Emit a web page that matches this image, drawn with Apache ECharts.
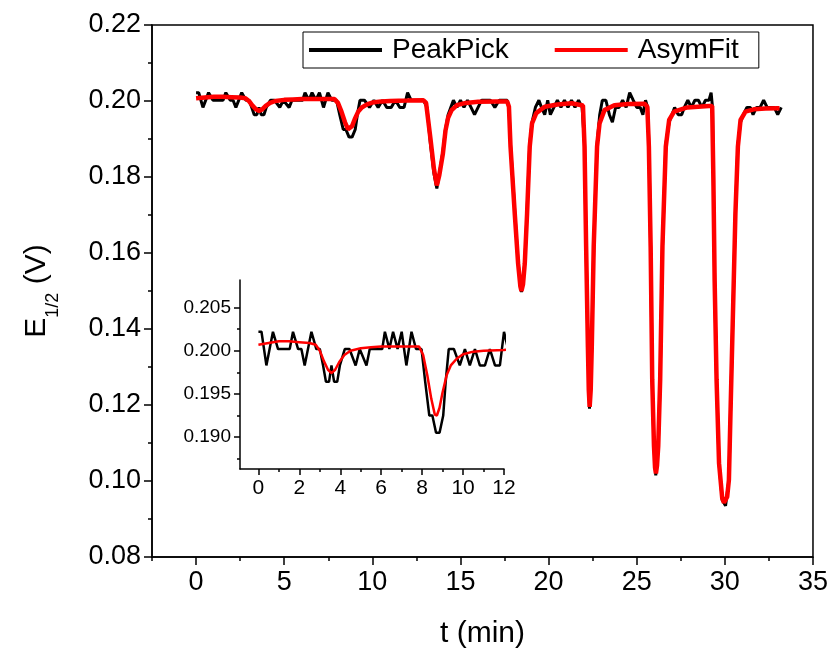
<!DOCTYPE html>
<html>
<head>
<meta charset="utf-8">
<script src="https://cdn.jsdelivr.net/npm/echarts@6/dist/echarts.min.js"></script>
<style>html,body{margin:0;padding:0;background:#fff}#c{width:831px;height:655px}</style>
</head>
<body>
<div id="c"></div>
<script>
// ---- data ----
var seriesNames = ['PeakPick', 'AsymFit'];

var pkT = [0.00,0.15,0.39,0.71,0.96,1.25,1.53,1.69,1.94,2.10,2.26,2.59,2.83,3.00,3.16,3.30,3.45,3.57,3.70,3.85,3.98,4.22,4.45,4.75,4.95,5.28,5.44,5.80,6.05,6.18,6.40,6.58,6.80,7.00,7.23,7.48,7.70,7.97,8.15,8.35,8.50,8.68,8.85,9.03,9.15,9.30,9.55,9.84,10.09,10.33,10.58,10.82,11.07,11.31,11.56,11.80,12.00,
12.20,12.45,12.70,12.90,13.10,13.30,13.50,13.66,13.80,14.00,14.15,14.30,14.45,14.60,14.80,15.00,15.20,15.40,15.60,15.80,16.00,16.20,16.45,16.70,16.95,17.20,17.45,17.65,17.75,17.84,18.08,18.27,18.46,18.65,18.78,18.93,19.06,19.25,19.45,19.60,19.78,19.95,20.10,20.30,20.50,20.70,20.90,21.10,21.30,21.50,21.70,21.90,
22.04,22.13,22.23,22.32,22.45,22.56,22.75,22.90,23.05,23.25,23.45,23.62,23.80,24.00,24.20,24.40,24.60,24.80,25.00,25.20,25.35,25.50,25.62,25.69,25.79,25.88,25.98,26.08,26.22,26.33,26.46,26.65,26.84,27.00,27.15,27.35,27.55,27.70,27.90,28.10,28.30,28.50,28.70,28.90,29.10,29.22,29.30,29.35,29.42,29.53,29.67,29.85,30.04,30.23,30.32,30.46,30.60,30.74,30.89,31.05,31.25,31.45,31.60,31.80,32.00,32.20,32.40,32.60,32.80,33.00,33.20];
var pkV = [0.2022,0.2022,0.1983,0.2022,0.2002,0.2002,0.2002,0.2022,0.2002,0.2002,0.1983,0.2022,0.2002,0.2002,0.1983,0.1964,0.1964,0.1983,0.1964,0.1964,0.1983,0.2002,0.2002,0.1983,0.2002,0.1983,0.2002,0.2002,0.2002,0.2022,0.2002,0.2022,0.2002,0.2022,0.1983,0.2022,0.2002,0.2002,0.1964,0.1925,0.1925,0.1905,0.1905,0.1925,0.1964,0.2002,0.2002,0.1983,0.2002,0.1983,0.2002,0.1983,0.1983,0.2002,0.1983,0.1983,0.2022,
0.2002,0.2002,0.2002,0.2002,0.1983,0.1886,0.1808,0.1770,0.1808,0.1866,0.1925,0.1964,0.1983,0.2002,0.1983,0.2002,0.1983,0.2002,0.1983,0.1964,0.1983,0.2002,0.2002,0.2002,0.1983,0.2002,0.2002,0.2002,0.1983,0.1886,0.1710,0.1574,0.1497,0.1574,0.1710,0.1886,0.1944,0.1983,0.2002,0.1983,0.1964,0.2002,0.1964,0.1983,0.2002,0.1983,0.2002,0.1983,0.2002,0.1983,0.2002,0.1983,
0.1886,0.1613,0.1354,0.1190,0.1354,0.1613,0.1886,0.1964,0.2002,0.2002,0.1964,0.1944,0.1983,0.1983,0.2002,0.1983,0.2022,0.2002,0.1983,0.1983,0.1964,0.2002,0.1983,0.1886,0.1613,0.1266,0.1090,0.1015,0.1090,0.1266,0.1613,0.1886,0.1944,0.1964,0.1983,0.1964,0.1964,0.1983,0.2002,0.1983,0.2002,0.2002,0.1983,0.2002,0.2002,0.2022,0.1983,0.1790,0.1528,0.1266,0.1047,0.0950,0.0935,0.1003,0.1179,0.1442,0.1705,0.1886,0.1944,0.1964,0.1983,0.1983,0.1964,0.1983,0.1983,0.2002,0.1983,0.1983,0.1983,0.1964,0.1983];

var fitT = [0.00,0.50,1.00,1.50,2.00,2.50,2.80,3.00,3.20,3.40,3.57,3.75,3.95,4.20,4.50,5.00,5.50,6.00,7.00,7.85,8.05,8.25,8.45,8.62,8.72,8.85,9.00,9.20,9.40,9.70,10.00,10.50,11.00,12.00,12.90,13.05,13.30,13.50,13.66,13.80,14.00,14.15,14.30,14.50,14.80,15.30,16.00,17.00,17.65,17.75,17.84,18.08,18.27,18.40,18.46,18.55,18.65,18.78,18.93,19.06,19.30,19.78,20.50,21.30,21.95,22.04,22.13,22.23,22.28,22.33,22.39,22.45,22.56,22.75,22.89,23.17,23.73,24.50,25.45,25.60,25.69,25.79,25.88,25.98,26.04,26.09,26.15,26.22,26.33,26.46,26.65,26.84,27.12,27.87,29.10,29.28,29.35,29.42,29.53,29.67,29.85,29.95,30.04,30.13,30.23,30.32,30.46,30.60,30.74,30.89,31.17,31.64,32.30,33.00,33.10];
var fitV = [0.2007,0.2009,0.2011,0.2011,0.2010,0.2009,0.2007,0.2000,0.1988,0.1978,0.1974,0.1978,0.1987,0.1995,0.2000,0.2003,0.2004,0.2005,0.2005,0.2005,0.1995,0.1972,0.1944,0.1926,0.1925,0.1934,0.1952,0.1972,0.1983,0.1991,0.1996,0.1999,0.2000,0.2001,0.2002,0.1995,0.1900,0.1820,0.1778,0.1805,0.1860,0.1922,0.1956,0.1976,0.1989,0.1995,0.1998,0.1999,0.1999,0.1985,0.1880,0.1704,0.1573,0.1512,0.1500,0.1518,0.1573,0.1704,0.1880,0.1941,0.1968,0.1985,0.1991,0.1994,0.1988,0.1880,0.1617,0.1353,0.1240,0.1195,0.1240,0.1353,0.1617,0.1880,0.1941,0.1976,0.1989,0.1992,0.1993,0.1985,0.1880,0.1617,0.1266,0.1091,0.1035,0.1020,0.1040,0.1091,0.1266,0.1617,0.1880,0.1950,0.1972,0.1983,0.1987,0.1987,0.1792,0.1529,0.1266,0.1047,0.0955,0.0943,0.0940,0.0958,0.1003,0.1179,0.1442,0.1705,0.1880,0.1950,0.1972,0.1978,0.1980,0.1981,0.1981];

var xMajor = [0, 5, 10, 15, 20, 25, 30, 35];
var xMinor = [-2.5, 2.5, 7.5, 12.5, 17.5, 22.5, 27.5, 32.5];
var insetXMajor = [0, 2, 4, 6, 8, 10, 12];
var insetXMinor = [1, 3, 5, 7, 9, 11];
var insetYMajor = [0.190, 0.195, 0.200, 0.205];
var insetYMinor = [0.1875, 0.1925, 0.1975, 0.2025];

// ---- build ----
function pairs(t, v) { return t.map(function (x, i) { return [x, v[i]]; }); }
var pk = pairs(pkT, pkV), fit = pairs(fitT, fitV);
var FONT = '"Liberation Sans", Arial, sans-serif';
var AX = { color: '#000', width: 1.5 };
var LINE = { onZero: false, lineStyle: AX };

var chart = echarts.init(document.getElementById('c'));
chart.setOption({
  animation: false,
  backgroundColor: '#fff',
  textStyle: { fontFamily: FONT, color: '#000' },
  legend: {
    data: [{ name: seriesNames[0], icon: 'rect' }, { name: seriesNames[1], icon: 'rect' }],
    left: 303, top: 32,
    padding: [4, 20, 4, 6],
    borderColor: '#000', borderWidth: 1,
    itemWidth: 73, itemHeight: 4, itemGap: 46,
    textStyle: { fontSize: 28, lineHeight: 28, color: '#000', fontFamily: FONT, padding: [0, 0, 0, 5] }
  },
  grid: [
    { left: 152, top: 25, right: 14, bottom: 98, show: true, borderColor: '#000', borderWidth: 1.5, backgroundColor: 'transparent' },
    { left: 240, top: 280, width: 264, height: 189 }
  ],
  xAxis: [
    { gridIndex: 0, type: 'value', min: -2.5, max: 35, position: 'bottom',
      axisLine: LINE, splitLine: { show: false },
      axisTick: { customValues: xMajor, length: 8, lineStyle: AX },
      axisLabel: { customValues: xMajor, fontSize: 27, color: '#000', margin: 12, fontFamily: FONT },
      name: 't (min)', nameLocation: 'middle', nameGap: 62,
      nameTextStyle: { fontSize: 30, color: '#000', fontFamily: FONT } },
    { gridIndex: 0, type: 'value', min: -2.5, max: 35, position: 'bottom',
      axisLine: { show: false, onZero: false }, splitLine: { show: false },
      axisTick: { customValues: xMinor, length: 4, lineStyle: AX },
      axisLabel: { show: false } },
    { gridIndex: 1, type: 'value', min: -0.9, max: 12, position: 'bottom',
      axisLine: LINE, splitLine: { show: false },
      axisTick: { customValues: insetXMajor, length: 6, lineStyle: AX },
      axisLabel: { customValues: insetXMajor, fontSize: 21, color: '#000', margin: 9, fontFamily: FONT } },
    { gridIndex: 1, type: 'value', min: -0.9, max: 12, position: 'bottom',
      axisLine: { show: false, onZero: false }, splitLine: { show: false },
      axisTick: { customValues: insetXMinor, length: 3, lineStyle: AX },
      axisLabel: { show: false } }
  ],
  yAxis: [
    { gridIndex: 0, type: 'value', min: 0.08, max: 0.22, interval: 0.02, position: 'left',
      axisLine: { show: true, onZero: false, lineStyle: AX }, splitLine: { show: false },
      axisTick: { show: true, length: 8, lineStyle: AX },
      minorTick: { show: true, splitNumber: 2, length: 4, lineStyle: AX },
      axisLabel: { fontSize: 27, color: '#000', margin: 11, fontFamily: FONT,
        formatter: function (v) { return v.toFixed(2); } },
      name: '{a|E}{b|1/2}{a| (V)}', nameLocation: 'middle', nameGap: 100, nameRotate: 90,
      nameTextStyle: { fontFamily: FONT, color: '#000',
        rich: { a: { fontSize: 30, fontFamily: FONT, color: '#000', lineHeight: 34, verticalAlign: 'bottom' },
                b: { fontSize: 18, fontFamily: FONT, color: '#000', lineHeight: 34, verticalAlign: 'bottom', padding: [0, 0, -10, 0] } } } },
    { gridIndex: 1, type: 'value', min: 0.1863, max: 0.2082, position: 'left',
      axisLine: { show: true, onZero: false, lineStyle: AX }, splitLine: { show: false },
      axisTick: { show: true, customValues: insetYMajor, length: 6, lineStyle: AX },
      axisLabel: { customValues: insetYMajor, fontSize: 19, color: '#000', margin: 9, fontFamily: FONT,
        formatter: function (v) { return v.toFixed(3); } } },
    { gridIndex: 1, type: 'value', min: 0.1863, max: 0.2082, position: 'left',
      axisLine: { show: false, onZero: false }, splitLine: { show: false },
      axisTick: { show: true, customValues: insetYMinor, length: 3, lineStyle: AX },
      axisLabel: { show: false } }
  ],
  series: [
    { name: seriesNames[0], type: 'line', xAxisIndex: 0, yAxisIndex: 0, data: pk,
      showSymbol: false, symbol: 'none', lineStyle: { color: '#000', width: 3 }, itemStyle: { color: '#000' }, z: 2 },
    { name: seriesNames[1], type: 'line', xAxisIndex: 0, yAxisIndex: 0, data: fit,
      showSymbol: false, symbol: 'none', lineStyle: { color: '#f00', width: 4.5 }, itemStyle: { color: '#f00' }, z: 3 },
    { name: seriesNames[0], type: 'line', xAxisIndex: 2, yAxisIndex: 1, data: pk,
      showSymbol: false, symbol: 'none', lineStyle: { color: '#000', width: 2.5 }, itemStyle: { color: '#000' }, z: 4 },
    { name: seriesNames[1], type: 'line', xAxisIndex: 2, yAxisIndex: 1, data: fit,
      showSymbol: false, symbol: 'none', lineStyle: { color: '#f00', width: 2.5 }, itemStyle: { color: '#f00' }, z: 5 }
  ]
});
</script>
</body>
</html>
